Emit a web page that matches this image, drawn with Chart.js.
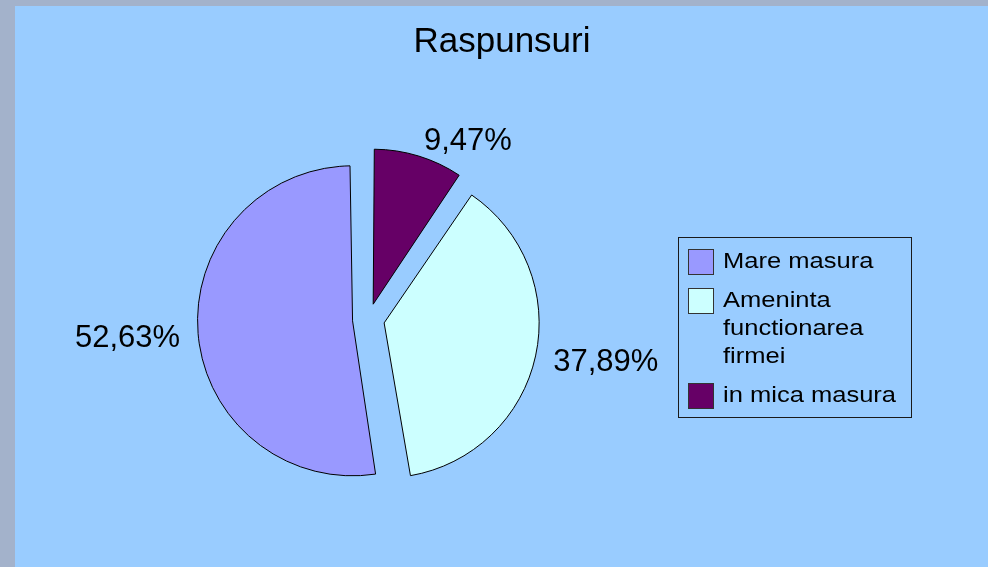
<!DOCTYPE html>
<html>
<head>
<meta charset="utf-8">
<script src="https://cdn.jsdelivr.net/npm/chart.js@4.4.1/dist/chart.umd.min.js"></script>
<style>
html, body { margin: 0; padding: 0; }
body { width: 988px; height: 567px; position: relative; overflow: hidden; background: #a3b2cb; font-family: "Liberation Sans", Arial, sans-serif; }
#panel { position: absolute; left: 15px; top: 6px; right: 0; bottom: 0; background: #99ccff; }
#c { position: absolute; left: 0; top: 0; }
#title { position: absolute; left: 402px; width: 200px; top: 20px; line-height: 40px; font-size: 35px; text-align: center; color: #000; }
#legend { position: absolute; left: 678px; top: 237px; width: 234px; height: 181px; box-sizing: border-box; border: 1px solid #1a1a1a; padding: 9px 0 0 9px; display: flex; flex-direction: column; gap: 11px; }
.item { display: flex; align-items: flex-start; }
.sw { width: 26px; height: 26px; box-sizing: border-box; border: 1px solid #333; margin-top: 1.5px; flex: none; }
.tx { margin-left: 8.5px; font-size: 22px; line-height: 28px; max-width: 158px; transform: scaleX(1.16); transform-origin: left top; color: #000; }
</style>
</head>
<body>
<div id="panel"></div>
<canvas id="c" width="988" height="567"></canvas>
<div id="title"></div>
<div id="legend"></div>
<script>
const chartTitle = "Raspunsuri";
const categories = ["Mare masura", "Ameninta functionarea firmei", "in mica masura"];
const values = [52.63, 37.89, 9.47];
const colors = ["#9999ff", "#ccffff", "#660066"];
const percentLabels = values.map(v => v.toFixed(2).replace('.', ',') + '%');

// slices are laid out counter-clockwise from 12 o'clock in the reference,
// so the chart draws them in reverse order (clockwise)
const drawOrder = [2, 1, 0];
const SHIFT = 16;   // explode distance (px)
const R = 155;      // pie radius (px)

document.getElementById('title').textContent = chartTitle;
const legend = document.getElementById('legend');
categories.forEach((cat, i) => {
  const it = document.createElement('div'); it.className = 'item';
  const sw = document.createElement('div'); sw.className = 'sw'; sw.style.background = colors[i];
  const tx = document.createElement('div'); tx.className = 'tx'; tx.textContent = cat;
  it.appendChild(sw); it.appendChild(tx); legend.appendChild(it);
});

// keep every exploded slice at the same radius
const radiusFix = {
  id: 'radiusFix',
  afterDatasetUpdate(chart, args) {
    const meta = chart.getDatasetMeta(args.index);
    meta.data.forEach(arc => {
      const fix = 1 - Math.sin(Math.min(Math.PI, arc.circumference));
      arc.outerRadius = R - SHIFT * fix;
    });
  }
};

const pctLabels = {
  id: 'pctLabels',
  afterDatasetsDraw(chart) {
    const ctx = chart.ctx;
    const meta = chart.getDatasetMeta(0);
    const lbls = drawOrder.map(i => percentLabels[i]);
    ctx.save();
    ctx.font = '31px "Liberation Sans", Arial, sans-serif';
    ctx.fillStyle = '#000';
    ctx.textBaseline = 'middle';
    meta.data.forEach((arc, i) => {
      const mid = (arc.startAngle + arc.endAngle) / 2;
      const d = SHIFT + R + 18;
      const x = arc.x + Math.cos(mid) * d;
      const y = arc.y + Math.sin(mid) * d + 3;
      ctx.textAlign = Math.cos(mid) >= 0 ? 'left' : 'right';
      ctx.fillText(lbls[i], x, y);
    });
    ctx.restore();
  }
};

new Chart(document.getElementById('c'), {
  type: 'pie',
  data: {
    labels: drawOrder.map(i => categories[i]),
    datasets: [{
      data: drawOrder.map(i => values[i]),
      backgroundColor: drawOrder.map(i => colors[i]),
      borderColor: '#000',
      borderWidth: 1,
      offset: SHIFT * 4,
      hoverOffset: SHIFT * 4,
      radius: R,
      rotation: 0
    }]
  },
  options: {
    responsive: false,
    animation: false,
    events: [],
    layout: { padding: { left: 60, right: 311, top: 100, bottom: 28 } },
    plugins: { legend: { display: false }, title: { display: false }, tooltip: { enabled: false } }
  },
  plugins: [radiusFix, pctLabels]
});
</script>
</body>
</html>
